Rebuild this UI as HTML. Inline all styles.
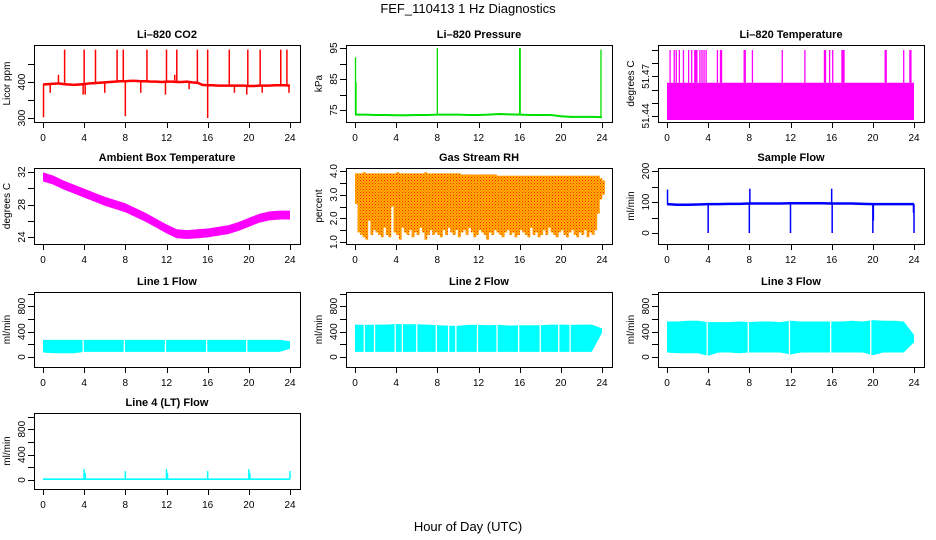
<!DOCTYPE html>
<html><head><meta charset="utf-8">
<style>
html,body{margin:0;padding:0;background:#fff;}
svg{display:block;font-family:"Liberation Sans",sans-serif;}
</style></head>
<body>
<svg id="c" width="936" height="540" viewBox="0 0 936 540">
<defs>
<pattern id="rhpat" width="3" height="3" patternUnits="userSpaceOnUse">
<rect width="3" height="3" fill="#ffb000"/><rect width="1" height="1" fill="#ff2000"/><rect x="1.5" y="1.5" width="1" height="1" fill="#ff4000"/>
</pattern>
</defs>
<text x="468" y="13" text-anchor="middle" font-size="13">FEF_110413  1 Hz Diagnostics</text>
<text x="468" y="531" text-anchor="middle" font-size="13">Hour of Day (UTC)</text>
</svg>
<script>
// ---------- data ----------
const xTicks = [0,4,8,12,16,20,24];
// CO2 (ppm), baseline every 0.5 h
const co2Base = [393,394,395,396,394,393,392,393,394,396,397,398,399,400,401,402,402,403,403,402,402,401,401,400,401,401,400,400,401,399,398,392,391,391,390,390,390,390,390,390,389,389,390,390,390,391,391,391,390];
const co2SpikeT = [2.1,4.0,5.1,7.2,7.8,10.1,12.0,13.0,15.0,16.0,18.1,19.9,21.1,23.1,23.7,0.05,8.0,16.0,0.7,1.5,3.9,4.1,6.0,9.5,11.9,12.8,14.2,18.6,19.8,21.3,23.9];
const co2SpikeV = [490,490,490,490,490,490,490,490,490,490,490,490,490,490,490,302,305,300,370,420,365,365,370,370,365,420,380,370,365,370,370];
// Pressure (kPa)
const presBase = [73.5,73.5,73.4,73.4,73.3,73.3,73.4,73.4,73.5,73.5,73.5,73.4,73.4,73.5,73.7,73.6,73.5,73.4,73.4,73.4,73.0,72.8,72.8,72.8,72.7];
const presSpikeT = [0.05,0.1,8.0,16.0,16.05,23.9];
const presSpikeV = [92,84,95,95,95,94.5];
// Li-820 temperature (deg C)
const tempBaseTop = 51.4652;
const tempSpikeT = [0.3,0.7,0.9,1.2,1.6,2.1,2.4,2.7,2.8,2.9,3.2,3.4,3.6,3.8,4.9,5.2,5.3,7.5,7.6,8.3,11.2,13.4,15.3,15.4,15.8,16.1,17.0,17.1,17.2,21.2,21.3,23.0,23.6,23.7];
const tempSpikeV = 51.49;
// Ambient box temperature, hourly centre
const ambT = [31.4,31.0,30.4,29.9,29.4,28.9,28.4,28.0,27.6,27.0,26.4,25.7,25.0,24.4,24.3,24.4,24.5,24.7,24.9,25.3,25.8,26.3,26.6,26.7,26.7];
// Gas stream RH: top & bottom every 0.25 h
const rhTop = [3.9,3.9,3.9,3.95,3.9,3.9,3.9,3.9,3.9,3.9,3.9,3.9,3.9,3.9,3.9,3.9,3.95,3.9,3.9,3.9,3.9,3.9,3.9,3.9,3.9,3.9,3.9,3.95,3.9,3.9,3.9,3.9,3.9,3.9,3.9,3.9,3.9,3.9,3.9,3.9,3.9,3.85,3.85,3.85,3.85,3.85,3.85,3.85,3.85,3.85,3.85,3.85,3.85,3.85,3.85,3.8,3.8,3.8,3.8,3.8,3.8,3.8,3.8,3.8,3.8,3.8,3.8,3.8,3.8,3.8,3.8,3.8,3.8,3.8,3.8,3.8,3.8,3.8,3.8,3.8,3.8,3.8,3.8,3.8,3.8,3.8,3.8,3.8,3.8,3.8,3.8,3.8,3.8,3.8,3.8,3.7,3.6];
const rhBot = [2.6,1.4,1.3,1.2,1.1,1.9,1.3,1.5,1.4,1.3,1.2,1.6,1.3,1.2,2.5,1.4,1.3,1.1,1.6,1.4,1.3,1.5,1.2,1.4,1.3,1.6,1.4,1.1,1.3,1.5,1.3,1.4,1.3,1.2,1.5,1.3,1.6,1.4,1.3,1.5,1.2,1.4,1.5,1.3,1.6,1.4,1.2,1.3,1.5,1.4,1.3,1.1,1.4,1.3,1.5,1.4,1.3,1.2,1.4,1.5,1.3,1.4,1.2,1.3,1.5,1.4,1.3,1.2,1.6,1.3,1.4,1.2,1.3,1.5,1.3,1.6,1.4,1.3,1.2,1.4,1.5,1.3,1.2,1.4,1.5,1.3,1.2,1.4,1.3,1.5,1.2,1.4,1.3,1.5,2.2,2.8,3.0];
// Sample flow
const sfBase = [93,91,91,92,93,93,94,94,95,95,95,95,96,96,96,96,95,95,95,94,93,93,93,93,93];
const sfSpikeT = [0.05,4.0,8.0,8.05,12.0,16.0,16.05,20.0,20.05,23.95,24.0];
const sfSpikeV = [140,0,0,143,0,143,0,0,40,65,0];
// Line flows: hourly bands (low, high)
const l1Low = [70,60,60,60,80,80,80,80,80,80,80,80,80,80,80,80,80,80,80,80,80,80,80,80,130];
const l1High = [270,270,270,270,270,270,270,270,270,270,270,270,270,270,270,270,270,270,270,270,270,270,270,270,250];
const l1Gaps = [3.9,7.9,11.9,15.9,19.8];
const l2Low = [80,80,80,80,80,80,80,80,80,80,80,80,80,80,80,80,80,80,80,80,80,80,80,80,380];
const l2High = [510,505,510,510,520,515,515,510,500,495,490,505,505,500,505,495,500,500,500,510,510,505,510,510,450];
const l2Gaps = [0.9,1.9,3.9,4.6,6.0,7.9,9.1,9.8,11.9,13.8,15.9,18.0,19.8,20.9];
const l3Low = [70,60,60,60,20,70,70,60,70,70,70,70,40,70,70,70,70,70,70,70,30,70,70,70,230];
const l3High = [560,560,570,570,550,550,550,560,550,560,560,550,570,560,560,560,560,560,570,560,580,570,570,560,350];
const l3Gaps = [3.9,7.9,11.9,15.9,19.8];
const l4Base = 12;
const l4SpikeT = [4.0,4.1,8.0,12.0,12.1,16.0,20.0,20.1,24.0];
const l4SpikeV = [170,110,140,170,110,140,170,110,140];

// ---------- layout ----------
const svg = document.getElementById('c');
const NS = 'http://www.w3.org/2000/svg';
function mk(tag, attrs, parent){const e=document.createElementNS(NS,tag);for(const k in attrs)e.setAttribute(k,attrs[k]);(parent||svg).appendChild(e);return e;}
const colX = [34,346,658];
const rowY = [[45,122],[168,244],[292,367],[413,489]];

function panel(col,row,name,title,ytitle,yMin,yMax,yPix0,yPix1,ticks,labels){
  const L=colX[col], R=L+266, T=rowY[row][0], B=rowY[row][1];
  const x0=L+9, x1=L+256;
  const xs = h => x0 + h/24*(x1-x0);
  const ys = v => yPix0 + (v-yMin)/(yMax-yMin)*(yPix1-yPix0);
  const g = mk('g',{});
  
  
  const plot = mk('g',{},g);
  
  
  const axes = mk('g',{},g);
  const box = mk('rect',{x:L+0.5,y:T+0.5,width:R-L,height:B-T,fill:'none',stroke:'#000','stroke-width':1},axes);
  
  
  const t = mk('text',{x:(L+R)/2,y:T-7,'text-anchor':'middle','font-size':11,'font-weight':'bold'},axes);
  t.textContent=title;
  
  
  const yt = mk('text',{x:0,y:0,'text-anchor':'middle','font-size':10,transform:`translate(${L-24},${(T+B)/2}) rotate(-90)`},axes);
  yt.textContent=ytitle;
  
  
  mk('line',{x1:xs(0),x2:xs(24),y1:B+0.5,y2:B+0.5,stroke:'#000'},axes);
  xTicks.forEach(h=>{
    mk('line',{x1:Math.round(xs(h))+0.5,x2:Math.round(xs(h))+0.5,y1:B,y2:B+6,stroke:'#000'},axes);
    const tx=mk('text',{x:xs(h),y:B+19,'text-anchor':'middle','font-size':10},axes);
    tx.textContent=h;
    
    
  });
  mk('line',{x1:L+0.5,x2:L+0.5,y1:ys(ticks[0]),y2:ys(ticks[ticks.length-1]),stroke:'#000'},axes);
  ticks.forEach(v=>{
    mk('line',{x1:L-6,x2:L,y1:Math.round(ys(v))+0.5,y2:Math.round(ys(v))+0.5,stroke:'#000'},axes);
  });
  labels.forEach(l=>{
    const tx=mk('text',{x:0,y:0,'text-anchor':'middle','font-size':10,transform:`translate(${L-9},${ys(l[0])}) rotate(-90)`},axes);
    tx.textContent=l[1];
    
    
  });
  return {xs,ys,plot};
}
function vline(p,h,v0,v1,color,w){mk('line',{x1:p.xs(h),x2:p.xs(h),y1:p.ys(v0),y2:p.ys(v1),stroke:color,'stroke-width':w||1.2},p.plot);}
function polyline(p,vals,step,color,w){
  mk('polyline',{points:vals.map((v,i)=>p.xs(i*step)+','+p.ys(v)).join(' '),fill:'none',stroke:color,'stroke-width':w},p.plot);
}
function band(p,lo,hi,step,fill){
  const pts=hi.map((v,i)=>p.xs(i*step)+','+p.ys(v)).concat(lo.map((v,i)=>[i,v]).reverse().map(a=>p.xs(a[0]*step)+','+p.ys(a[1])));
  mk('polygon',{points:pts.join(' '),fill:fill,stroke:'none'},p.plot);
}

// CO2
let p = panel(0,0,'co2','Li\u2013820 CO2','Licor ppm',300,400,118,82,[300,350,400,450],[[300,'300'],[400,'400']]);
co2SpikeT.forEach((h,i)=>{const b=co2Base[Math.round(h*2)];vline(p,h,b,co2SpikeV[i],'#ff0000',1.5);});
polyline(p,co2Base,0.5,'#ff0000',2.5);

// Pressure
p = panel(1,0,'pressure','Li\u2013820 Pressure','kPa',75,95,110,48,[75,80,85,90,95],[[75,'75'],[85,'85'],[95,'95']]);
polyline(p,presBase,1,'#00e000',2);
presSpikeT.forEach((h,i)=>{vline(p,h,presBase[Math.round(h)],presSpikeV[i],'#00e000',1.3);});

// Li-820 Temperature
p = panel(2,0,'li820-temp','Li\u2013820 Temperature','degrees C',51.44,51.49,116,50,[51.44,51.45,51.46,51.47,51.48,51.49],[[51.44,'51.44'],[51.47,'51.47']]);
band(p,[51.437,51.437],[tempBaseTop,tempBaseTop],24,'#ff00ff');
tempSpikeT.forEach(h=>vline(p,h,tempBaseTop,tempSpikeV,'#ff00ff',1.3));

// Ambient
p = panel(0,1,'ambient-temp','Ambient Box Temperature','degrees C',24,32,237,172,[24,26,28,30,32],[[24,'24'],[28,'28'],[32,'32']]);
band(p,ambT.map(v=>v-0.55),ambT.map(v=>v+0.55),1,'#ff00ff');

// RH
p = panel(1,1,'gas-rh','Gas Stream RH','percent',1,4,242,171,[1,1.5,2,2.5,3,3.5,4],[[1,'1.0'],[2,'2.0'],[3,'3.0'],[4,'4.0']]);
rhTop.forEach((top,i)=>{ mk('rect',{x:p.xs(i*0.25),y:p.ys(top),width:p.xs(0.25)-p.xs(0)+0.3,height:p.ys(rhBot[i])-p.ys(top),fill:'url(#rhpat)'},p.plot); });

// Sample flow
p = panel(2,1,'sample-flow','Sample Flow','ml/min',0,200,233,171,[0,50,100,150,200],[[0,'0'],[100,'100'],[200,'200']]);
polyline(p,sfBase,1,'#0000ff',2.5);
sfSpikeT.forEach((h,i)=>vline(p,h,sfBase[Math.round(h)],sfSpikeV[i],'#0000ff',1.5));

// Line flows
const flowTicks=[0,200,400,600,800,1000], flowLabels=[[0,'0'],[400,'400'],[800,'800']];
function flowPanel(col,row,name,title,lo,hi,gaps){
  const z = row===2?357:480;
  const q = panel(col,row,name,title,'ml/min',0,1000,z,z-63.5,flowTicks,flowLabels);
  band(q,lo,hi,1,'#00ffff');
  gaps.forEach(h=>mk('line',{x1:q.xs(h),x2:q.xs(h),y1:q.ys(Math.max(...hi)+10),y2:q.ys(Math.min(...lo)-10),stroke:'#fff','stroke-width':1.3},q.plot));
  return q;
}
flowPanel(0,2,'line1-flow','Line 1 Flow',l1Low,l1High,l1Gaps);
flowPanel(1,2,'line2-flow','Line 2 Flow',l2Low,l2High,l2Gaps);
flowPanel(2,2,'line3-flow','Line 3 Flow',l3Low,l3High,l3Gaps);
p = panel(0,3,'line4-flow','Line 4 (LT) Flow','ml/min',0,1000,480,416.5,flowTicks,flowLabels);
band(p,[0,0],[l4Base+14,l4Base+14],24,'#00ffff');
l4SpikeT.forEach((h,i)=>vline(p,h,l4Base,l4SpikeV[i],'#00ffff',1.5));
</script>
</body></html>
